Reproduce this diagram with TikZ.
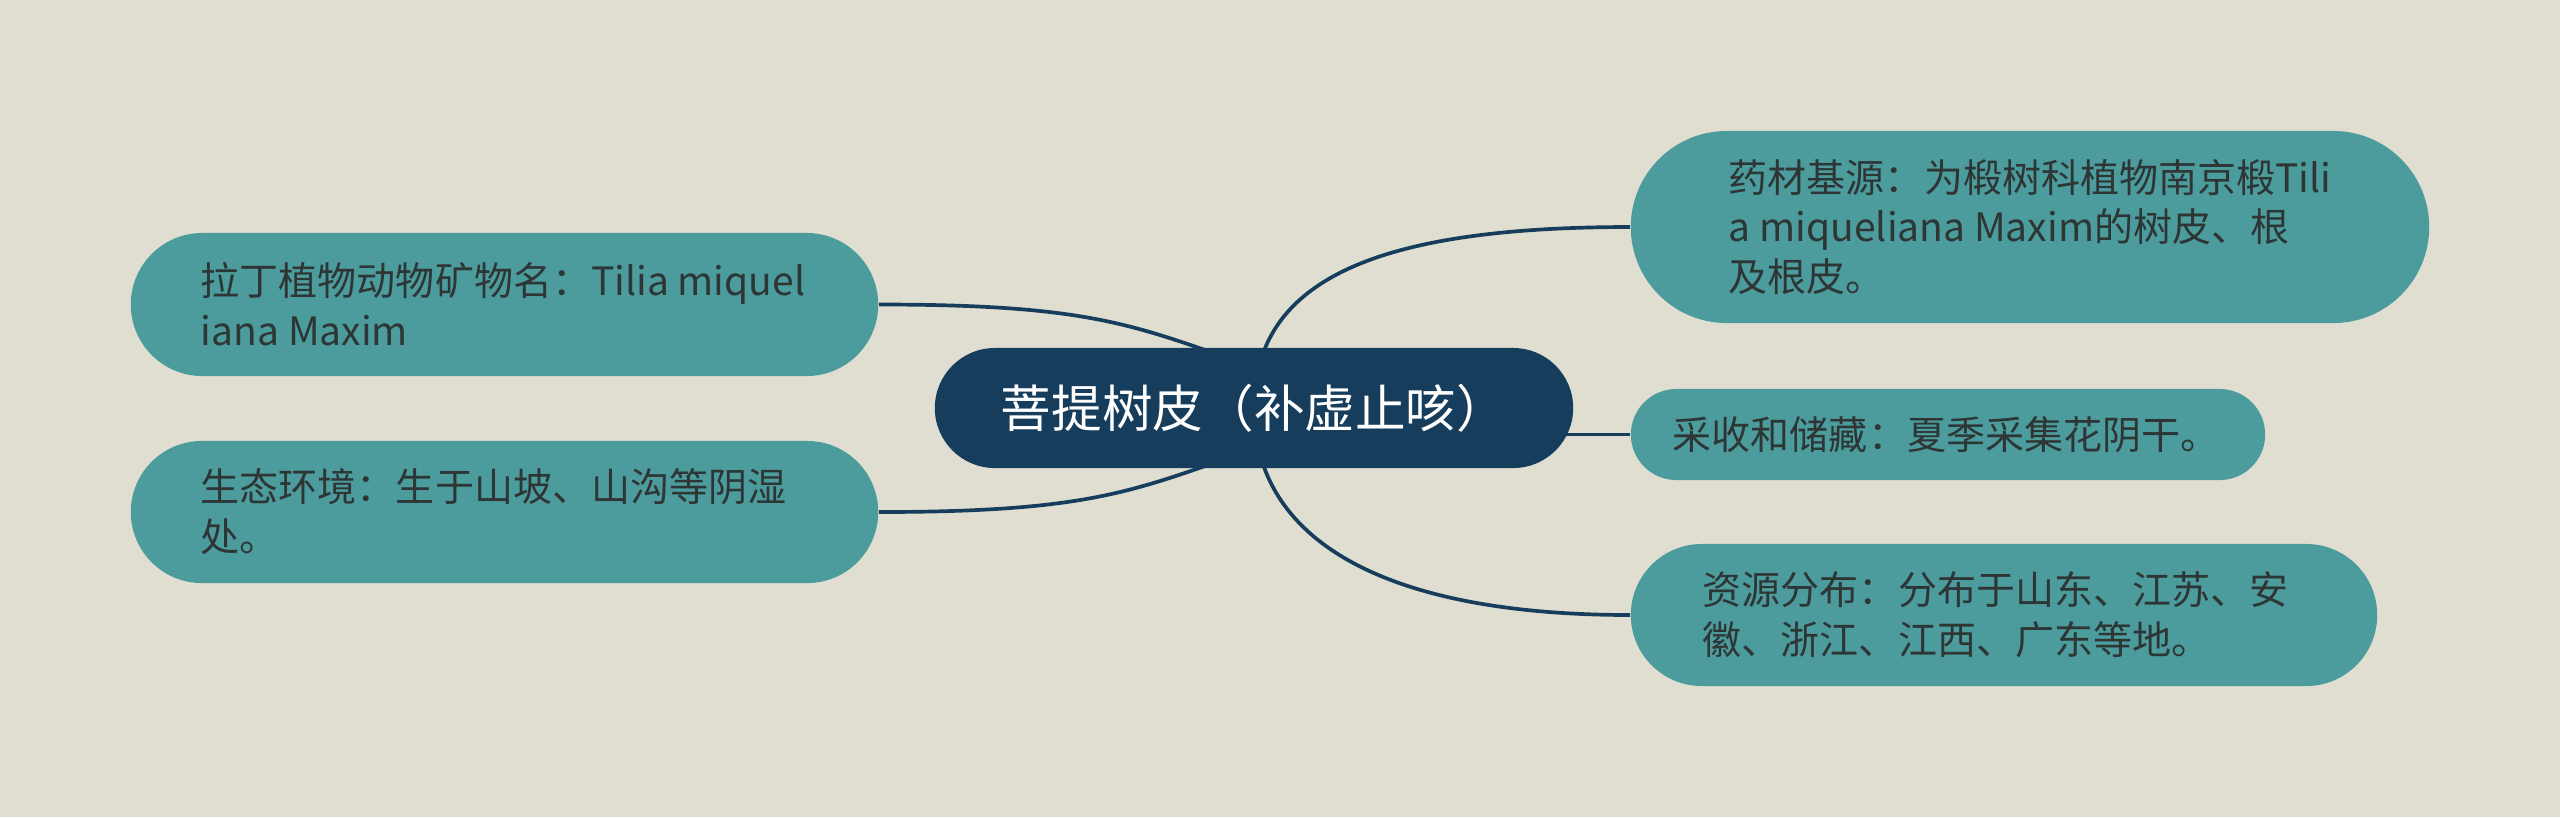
\documentclass[tikz,border=0pt]{standalone}
\usepackage{fontspec}
\setmainfont{Noto Sans CJK SC}
\definecolor{bgc}{HTML}{DFDED1}
\definecolor{leafc}{HTML}{4C9C9D}
\definecolor{rootc}{HTML}{173D5C}
\definecolor{leaftext}{HTML}{2E3535}
\pgfdeclarelayer{bg}
\pgfdeclarelayer{edges}
\pgfsetlayers{bg,edges,main}
\tikzset{
  leaf/.style={rectangle, fill=leafc, text=leaftext, align=flush left, inner sep=0pt,
    font=\fontsize{11.1pt}{14.2pt}\selectfont},
  root/.style={rectangle, fill=rootc, text=white, align=center, inner sep=0pt,
    font=\fontsize{14.4pt}{17pt}\selectfont},
  branch/.style={draw=rootc, line width=1.05pt}
}
\begin{document}
\begin{tikzpicture}[x=0.01cm, y=-0.01cm]
\begin{pgfonlayer}{bg}
\fill[bgc] (0,0) rectangle (2560,817);
\end{pgfonlayer}
\useasboundingbox (0,0) rectangle (2560,817);
\node[root, minimum width=6.38cm, minimum height=1.2cm, rounded corners=0.6cm] (c) at (1254,408) {菩提树皮（补虚止咳）};
\node[leaf, minimum width=7.47cm, minimum height=1.43cm, rounded corners=0.715cm, text width=6.07cm] (lt) at (504.5,304.5) {拉丁植物动物矿物名：Tilia~miquel\\iana~Maxim};
\node[leaf, minimum width=7.47cm, minimum height=1.42cm, rounded corners=0.71cm, text width=6.07cm] (lb) at (504.5,512) {生态环境：生于山坡、山沟等阴湿\\处。};
\node[leaf, minimum width=7.98cm, minimum height=1.92cm, rounded corners=0.96cm, text width=6.02cm] (rt) at (2030,227) {药材基源：为椴树科植物南京椴Tili\\a~miqueliana~Maxim的树皮、根\\及根皮。};
\node[leaf, minimum width=6.34cm, minimum height=0.91cm, rounded corners=0.455cm, text width=5.5cm] (rm) at (1948,434.5) {采收和储藏：夏季采集花阴干。};
\node[leaf, minimum width=7.46cm, minimum height=1.42cm, rounded corners=0.71cm, text width=6.02cm] (rb) at (2004,615) {资源分布：分布于山东、江苏、安\\徽、浙江、江西、广东等地。};
\coordinate (cl1) at (1228,358);
\coordinate (cl2) at (1228,458);
\begin{pgfonlayer}{edges}
\draw[branch] (lt.east) .. controls +(200,0) and +(-100,-35) .. (cl1);
\draw[branch] (lb.east) .. controls +(200,0) and +(-100,35) .. (cl2);
\draw[branch] (rt.west) .. controls +(-250,0) and +(0,-130) .. (c.center);
\draw[branch] (rm.west) -- (rm.west -| c.center);
\draw[branch] (rb.west) .. controls +(-250,0) and +(0,130) .. (c.center);
\end{pgfonlayer}
\end{tikzpicture}
\end{document}
